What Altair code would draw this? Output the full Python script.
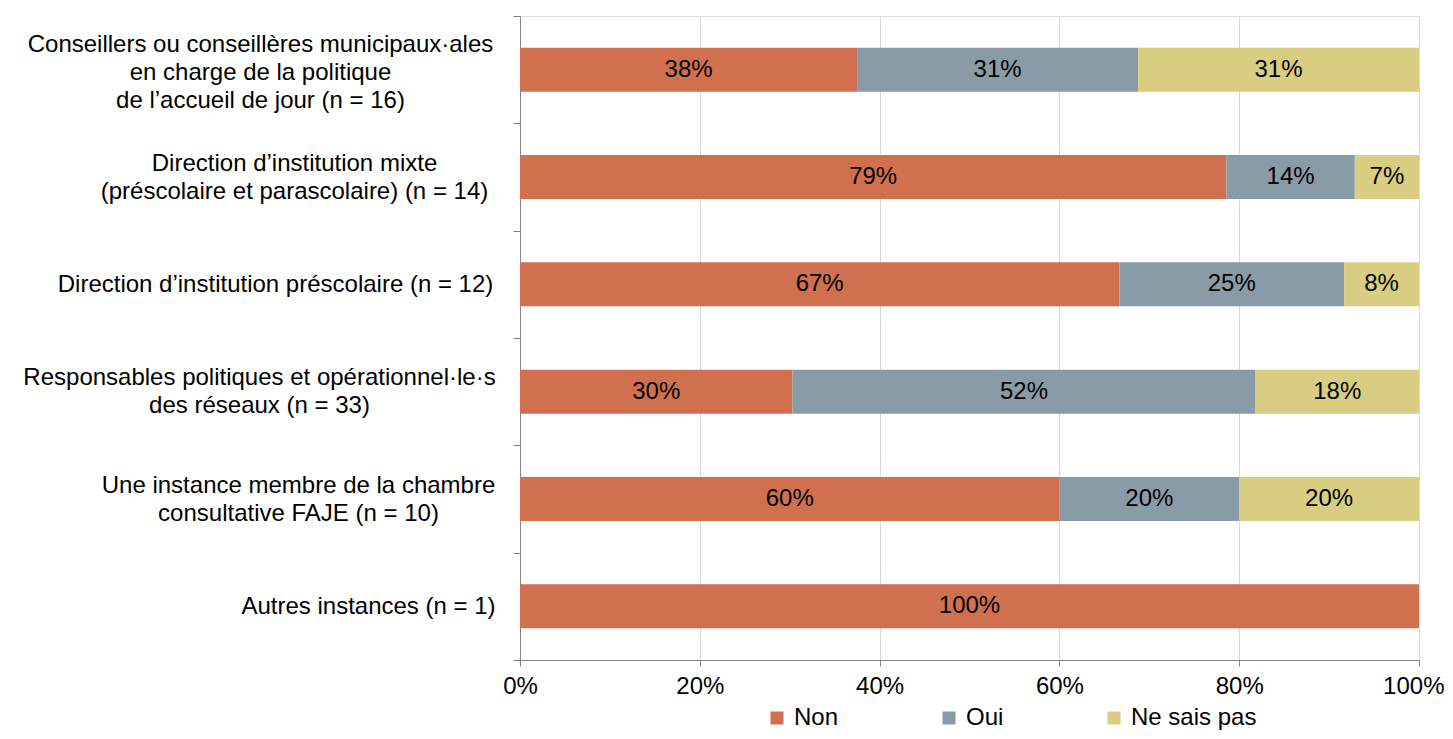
import altair as alt
import pandas as pd

# ---- data -------------------------------------------------------------
categories = [
    "Conseillers ou conseillères municipaux·ales|en charge de la politique|de l’accueil de jour (n = 16)",
    "Direction d’institution mixte|(préscolaire et parascolaire) (n = 14)",
    "Direction d’institution préscolaire (n = 12)",
    "Responsables politiques et opérationnel·le·s|des réseaux (n = 33)",
    "Une instance membre de la chambre|consultative FAJE (n = 10)",
    "Autres instances (n = 1)",
]
responses = ["Non", "Oui", "Ne sais pas"]
non = [0.375, 0.7857, 0.6667, 0.3030, 0.60, 1.00]
oui = [0.3125, 0.1429, 0.25, 0.5152, 0.20, 0.00]
nsp = [0.3125, 0.0714, 0.0833, 0.1818, 0.20, 0.00]
x_ticks = [0, 0.2, 0.4, 0.6, 0.8, 1.0]

# ---- style --------------------------------------------------------------
colors = ["#D0704F", "#899BA6", "#D8CD80"]
label_pad = [253, 219, 238, 254, 215, 145]  # distance (px) from tick end to label centre

rows = []
for i, cat in enumerate(categories):
    start = 0.0
    for j, (resp, vals) in enumerate(zip(responses, [non, oui, nsp])):
        v = vals[i]
        rows.append({
            "cat": cat, "resp": resp, "order": j, "value": v,
            "start": start, "end": start + v, "mid": start + v / 2,
        })
        start += v
df = pd.DataFrame(rows)

pad_expr = " : ".join(
    f"datum.value === '{c}' ? {p}" for c, p in zip(categories, label_pad)
) + " : 20"
off_expr = ("length(split(datum.value, '|')) === 3 ? -25 : "
            "length(split(datum.value, '|')) === 2 ? -14 : 0")

FONT = "Liberation Sans"
GRAY = "#868686"

y_axis = alt.Axis(
    title=None,
    labelExpr="split(datum.label, '|')",
    labelAlign="center",
    labelBaseline="middle",
    labelFontSize=24,
    labelLineHeight=28,
    labelColor="black",
    labelFont=FONT,
    labelLimit=800,
    labelPadding=alt.ExprRef(pad_expr),
    labelOffset=alt.ExprRef(off_expr),
    tickBand="extent",
    tickSize=7,
    tickColor=GRAY,
    domainColor=GRAY,
    grid=False,
)
x_axis = alt.Axis(
    title=None,
    format=".0%",
    values=x_ticks,
    labelFontSize=24,
    labelColor="black",
    labelFont=FONT,
    labelPadding=8,
    labelFlush=False,
    labelAlign={"condition": {"test": "datum.value === 1", "value": "right"},
                "value": "center"},
    labelOffset=alt.ExprRef("datum.value === 1 ? 25 : 0"),
    tickSize=6,
    tickColor=GRAY,
    domainColor=GRAY,
    grid=True,
    gridColor="#D9D9D9",
)

y_enc = alt.Y("cat:N", sort=categories,
              scale=alt.Scale(paddingInner=0, paddingOuter=0), axis=y_axis)

bars = alt.Chart(df).mark_bar(size=44).encode(
    y=y_enc,
    x=alt.X("start:Q", scale=alt.Scale(domain=[0, 1]), axis=x_axis),
    x2="end:Q",
    color=alt.Color(
        "resp:N",
        scale=alt.Scale(domain=responses, range=colors),
        legend=alt.Legend(
            title=None, orient="none", legendX=245, legendY=690,
            direction="horizontal", symbolType="square", symbolSize=169,
            symbolStrokeWidth=0, labelFontSize=24, labelFont=FONT,
            labelColor="black", columnPadding=98, labelOffset=5, padding=0,
        ),
    ),
    order=alt.Order("order:Q"),
)

text = alt.Chart(df).transform_filter("datum.value > 0").mark_text(
    fontSize=24, color="black", font=FONT, align="center", baseline="middle"
).encode(
    y=alt.Y("cat:N", sort=categories, title=None),
    x=alt.X("mid:Q", title=None),
    text=alt.Text("value:Q", format=".0%"),
)

chart = alt.layer(bars, text).properties(
    width=899,
    height=644,
    autosize=alt.AutoSizeParams(type="none"),
    padding={"left": 512, "top": 8, "right": 26, "bottom": 71},
).configure_view(stroke=None).configure(font=FONT)

chart.save("out.html", embed_options={"renderer": "svg", "actions": False})
